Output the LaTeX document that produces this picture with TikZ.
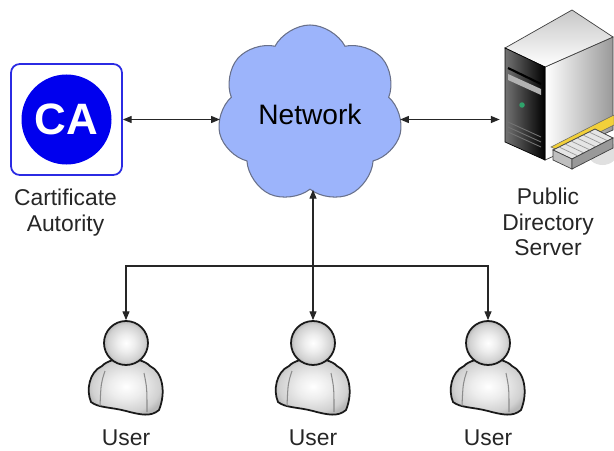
\documentclass[tikz,border=0pt]{standalone}
\usepackage{fontspec}
\setmainfont{Liberation Sans}
\usetikzlibrary{arrows.meta,shapes.symbols,calc}
\definecolor{cafill}{HTML}{0000EE}
\definecolor{caline}{HTML}{2B2BE3}
\definecolor{netfill}{HTML}{9CB4FB}
\definecolor{netline}{HTML}{68708A}
\definecolor{ledgreen}{HTML}{2FA36B}
\definecolor{folder}{HTML}{F2D03A}
% soft glow for the user figures: white core, grey rim
\pgfdeclareradialshading{userglow}{\pgfpoint{0bp}{0bp}}{color(0bp)=(white);
 color(10bp)=(black!7); color(21bp)=(black!18); color(25bp)=(black!28); color(50bp)=(black!28)}

\begin{document}
\begin{tikzpicture}[x=1cm,y=1cm,>={Triangle[length=5pt,width=4pt]},
 every node/.style={font=\fontsize{13}{14.5}\selectfont,inner sep=0pt},
 link/.style={draw=black!85,line width=.6pt},
 caption/.style={align=center,text=black!85,anchor=north},
 head/.style={circle,draw=black!90,line width=1pt,minimum size=.88cm,shading=userglow},
 person/.style={draw=black!90,line width=1pt,shading=userglow},
 crease/.style={draw=black!45,line width=.6pt},
 edge/.style={draw=black!75,line width=.4pt}]
\useasboundingbox (0,0) rectangle (12.28,9);

% certificate authority
\node[draw=caline,line width=1pt,rounded corners=5pt,fill=white,minimum size=2.22cm] (ca) at (1.33,6.61) {};
\node[circle,fill=cafill,minimum size=1.8cm,text=white,font=\fontsize{25}{28}\selectfont\bfseries] (ca-logo) at (ca) {CA};
\node[caption] (ca-text) at (1.31,5.22) {Cartificate\\Autority};

% network
\node[cloud,cloud puffs=7,cloud puff arc=125,aspect=1,draw=netline,fill=netfill,line width=.6pt,
 minimum width=3.7cm,minimum height=3.56cm,font=\fontsize{16}{18}\selectfont] (net) at (6.2,6.72) {Network};

% directory server: tower, tray with folder
\node[minimum width=2.28cm,minimum height=3.2cm] (server) at (11.14,7.2) {};
\shade[edge,left color=white,right color=black!40] (10.90,7.66) -- (12.26,8.26) -- (12.26,6.40) -- (10.90,5.80) -- cycle;
\shade[edge,top color=black!22,bottom color=white] (10.10,8.04) -- (11.44,8.80) -- (12.26,8.26) -- (10.90,7.66) -- cycle;
\shade[edge,draw=black,left color=black!55,right color=black] (10.10,8.04) -- (10.90,7.66) -- (10.90,5.80) -- (10.10,6.16) -- cycle;
\draw[black,line width=1.2pt] (10.16,7.64) -- (10.82,7.32);
\fill[black!30] (10.16,7.52) -- (10.82,7.22) -- (10.82,7.10) -- (10.16,7.40) -- cycle;
\fill[ledgreen] (10.44,6.90) circle (.055);
\foreach \k in {0,1,2}
 \draw[black!55,line width=.5pt] (10.16,6.56-\k*.1) -- (10.82,6.26-\k*.1);
\fill[black!12] (12.05,5.95) ellipse (.3 and .25);
\fill[folder,draw=black!60,line width=.3pt] (11.02,6.06) -- (11.92,6.52) -- (12.28,6.70) -- (12.28,6.50) -- (12.0,6.36) -- (11.2,5.98) -- cycle;
\fill[edge,fill=black!10] (11.06,6.00) -- (11.90,6.42) -- (12.26,6.24) -- (11.44,5.82) -- cycle;
\foreach \k in {1,...,6}
 \draw[black!40,line width=.4pt] ($(11.06,6.00)!\k/7!(11.90,6.42)$) -- ++(.36,-.17);
\fill[edge,fill=black!25] (11.06,6.00) -- (11.44,5.82) -- (11.44,5.62) -- (11.06,5.80) -- cycle;
\fill[edge,fill=black!40] (11.44,5.82) -- (12.26,6.24) -- (12.26,6.04) -- (11.44,5.62) -- cycle;
\node[caption] (server-text) at (10.96,5.24) {Public\\Directory\\Server};

% users
\foreach \i/\x in {1/2.52,2/6.26,3/9.76} {
 \begin{scope}[shift={(\x,2.14)}]
  \path[person] (-0.70,-1.18) .. controls (-0.80,-0.95) and (-0.74,-0.58) .. (-0.48,-0.46)
   .. controls (-0.30,-0.26) and (0.30,-0.26) .. (0.48,-0.46)
   .. controls (0.74,-0.58) and (0.80,-1.0) .. (0.66,-1.34)
   .. controls (0.50,-1.48) and (0.30,-1.44) .. (0.0,-1.36)
   .. controls (-0.30,-1.28) and (-0.55,-1.30) .. cycle;
  \draw[crease] (-0.42,-0.56) .. controls (-0.50,-0.8) .. (-0.52,-1.26);
  \draw[crease] (0.36,-0.60) .. controls (0.42,-0.9) .. (0.42,-1.38);
 \end{scope}
 \node[head] (user\i) at (\x,2.14) {};
 \node[anchor=base,text=black!85] (user\i-text) at (\x,0.1) {User};
}

% connections
\coordinate (split) at (6.26,3.68);
\draw[link,<->] (ca.east) -- (ca.east -| net.west);
\draw[link,<->] (net.east |- ca.east) -- (ca.east -| server.west);
\draw[link,<->] (user2.north) -- (user2.north |- net.south);
\draw[link,->] (split) -| (user1.north);
\draw[link,->] (split) -| (user3.north);
\end{tikzpicture}
\end{document}
